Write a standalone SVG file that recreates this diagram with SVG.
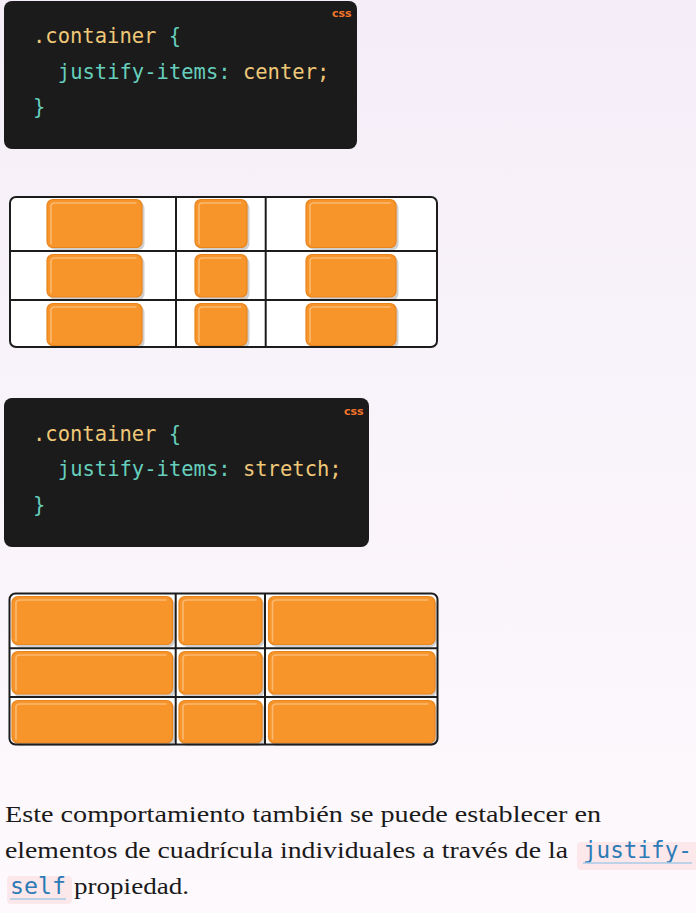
<svg xmlns="http://www.w3.org/2000/svg" width="696" height="913" viewBox="0 0 696 913">
<defs>
<linearGradient id="bg" x1="0" y1="0" x2="0" y2="1">
<stop offset="0" stop-color="#f5eef8"/>
<stop offset="1" stop-color="#fdf9fc"/>
</linearGradient>
<style>
.code{fill:#1b1b1b}
.mono{font-family:"DejaVu Sans Mono","Liberation Mono",monospace;font-size:20.5px}
.yel{fill:#efc878}
.teal{fill:#66cfbd}
.css{font-family:"DejaVu Sans","Liberation Sans",sans-serif;font-size:11px;font-weight:bold;fill:#f2742a}
.cell{fill:#ffffff}
.gl{fill:none;stroke:#1c1c1c;stroke-width:2}
.sh{fill:#cfcfcf}
.box{fill:#f7942a;stroke:#e8851f;stroke-width:1.2}
.hl{fill:none;stroke:#fbbd79;stroke-width:1.6;stroke-linecap:round;opacity:0.9}
.para{font-family:"Liberation Serif","DejaVu Serif",serif;font-size:24px;fill:#1a1a1a}
.ic{fill:#fce8ea}
.icode{font-family:"DejaVu Sans Mono","Liberation Mono",monospace;font-size:22.5px;fill:#2c7ab6}
.ul{stroke:#a9cbe6;stroke-width:1.6}
</style>
</defs>
<rect width="696" height="913" fill="url(#bg)"/>

<g id="code1">
<rect class="code" x="4" y="1" width="353" height="148" rx="8"/>
<text class="css" x="332" y="17">css</text>
<text class="mono" x="33" y="43"><tspan class="yel">.container</tspan><tspan class="teal"> {</tspan></text>
<text class="mono" x="57.8" y="78.5"><tspan class="teal">justify-items:</tspan><tspan class="yel"> center;</tspan></text>
<text class="mono teal" x="33" y="114">}</text>
</g>

<g id="grid1">
<rect class="cell" x="10" y="197" width="427" height="150" rx="6"/>
<g>
<rect class="sh" x="49.5" y="202" width="95" height="48" rx="6"/>
<rect class="sh" x="197.5" y="202" width="52" height="48" rx="6"/>
<rect class="sh" x="308.5" y="202" width="90" height="48" rx="6"/>
<rect class="sh" x="49.5" y="257" width="95" height="43" rx="6"/>
<rect class="sh" x="197.5" y="257" width="52" height="43" rx="6"/>
<rect class="sh" x="308.5" y="257" width="90" height="43" rx="6"/>
<rect class="sh" x="49.5" y="306" width="95" height="42" rx="6"/>
<rect class="sh" x="197.5" y="306" width="52" height="42" rx="6"/>
<rect class="sh" x="308.5" y="306" width="90" height="42" rx="6"/>
</g>
<g id="g1r1c1"><rect class="box" x="47" y="199.5" width="95" height="48" rx="6"/><path class="hl" d="M51 244 V206 Q51 203 55 203 H136"/></g>
<g id="g1r1c2"><rect class="box" x="195" y="199.5" width="52" height="48" rx="6"/><path class="hl" d="M199 244 V206 Q199 203 203 203 H241"/></g>
<g id="g1r1c3"><rect class="box" x="306" y="199.5" width="90" height="48" rx="6"/><path class="hl" d="M310 244 V206 Q310 203 314 203 H390"/></g>
<g id="g1r2c1"><rect class="box" x="47" y="254.5" width="95" height="42.5" rx="6"/><path class="hl" d="M51 293 V261 Q51 258 55 258 H136"/></g>
<g id="g1r2c2"><rect class="box" x="195" y="254.5" width="52" height="42.5" rx="6"/><path class="hl" d="M199 293 V261 Q199 258 203 258 H241"/></g>
<g id="g1r2c3"><rect class="box" x="306" y="254.5" width="90" height="42.5" rx="6"/><path class="hl" d="M310 293 V261 Q310 258 314 258 H390"/></g>
<g id="g1r3c1"><rect class="box" x="47" y="303.5" width="95" height="42" rx="6"/><path class="hl" d="M51 342 V310 Q51 307 55 307 H136"/></g>
<g id="g1r3c2"><rect class="box" x="195" y="303.5" width="52" height="42" rx="6"/><path class="hl" d="M199 342 V310 Q199 307 203 307 H241"/></g>
<g id="g1r3c3"><rect class="box" x="306" y="303.5" width="90" height="42" rx="6"/><path class="hl" d="M310 342 V310 Q310 307 314 307 H390"/></g>
<rect class="gl" x="10" y="197" width="427" height="150" rx="6"/>
<path class="gl" d="M176 197 V347 M265.7 197 V347 M10 251 H437 M10 300 H437"/>
</g>

<g id="code2">
<rect class="code" x="4" y="398" width="365" height="149" rx="8"/>
<text class="css" x="344" y="415">css</text>
<text class="mono" x="33" y="440.5"><tspan class="yel">.container</tspan><tspan class="teal"> {</tspan></text>
<text class="mono" x="57.8" y="476"><tspan class="teal">justify-items:</tspan><tspan class="yel"> stretch;</tspan></text>
<text class="mono teal" x="33" y="511.5">}</text>
</g>

<g id="grid2">
<rect class="cell" x="9.5" y="593.5" width="428" height="151" rx="6"/>
<g>
<rect class="sh" x="14" y="599" width="161" height="48" rx="6"/>
<rect class="sh" x="181.5" y="599" width="83" height="48" rx="6"/>
<rect class="sh" x="270.5" y="599" width="166" height="48" rx="6"/>
<rect class="sh" x="14" y="654" width="161" height="43" rx="6"/>
<rect class="sh" x="181.5" y="654" width="83" height="43" rx="6"/>
<rect class="sh" x="270.5" y="654" width="166" height="43" rx="6"/>
<rect class="sh" x="14" y="703" width="161" height="43" rx="6"/>
<rect class="sh" x="181.5" y="703" width="83" height="43" rx="6"/>
<rect class="sh" x="270.5" y="703" width="166" height="43" rx="6"/>
</g>
<g id="g2r1c1"><rect class="box" x="12" y="596.5" width="160.5" height="48" rx="6"/><path class="hl" d="M16 641 V603 Q16 600 20 600 H166"/></g>
<g id="g2r1c2"><rect class="box" x="179" y="596.5" width="83" height="48" rx="6"/><path class="hl" d="M183 641 V603 Q183 600 187 600 H256"/></g>
<g id="g2r1c3"><rect class="box" x="268.5" y="596.5" width="166.5" height="48" rx="6"/><path class="hl" d="M272.5 641 V603 Q272.5 600 276.5 600 H428"/></g>
<g id="g2r2c1"><rect class="box" x="12" y="651.5" width="160.5" height="42.5" rx="6"/><path class="hl" d="M16 690 V658 Q16 655 20 655 H166"/></g>
<g id="g2r2c2"><rect class="box" x="179" y="651.5" width="83" height="42.5" rx="6"/><path class="hl" d="M183 690 V658 Q183 655 187 655 H256"/></g>
<g id="g2r2c3"><rect class="box" x="268.5" y="651.5" width="166.5" height="42.5" rx="6"/><path class="hl" d="M272.5 690 V658 Q272.5 655 276.5 655 H428"/></g>
<g id="g2r3c1"><rect class="box" x="12" y="700.5" width="160.5" height="42.5" rx="6"/><path class="hl" d="M16 739 V707 Q16 704 20 704 H166"/></g>
<g id="g2r3c2"><rect class="box" x="179" y="700.5" width="83" height="42.5" rx="6"/><path class="hl" d="M183 739 V707 Q183 704 187 704 H256"/></g>
<g id="g2r3c3"><rect class="box" x="268.5" y="700.5" width="166.5" height="42.5" rx="6"/><path class="hl" d="M272.5 739 V707 Q272.5 704 276.5 704 H428"/></g>
<rect class="gl" x="9.5" y="593.5" width="428" height="151" rx="6"/>
<path class="gl" d="M175.7 593.5 V744.5 M265 593.5 V744.5 M9.5 648.3 H437.5 M9.5 697 H437.5"/>
</g>

<g id="paragraph">
<text class="para" x="5" y="822" textLength="596" lengthAdjust="spacingAndGlyphs">Este comportamiento también se puede establecer en</text>
<text class="para" x="5" y="858" textLength="563" lengthAdjust="spacingAndGlyphs">elementos de cuadrícula individuales a través de la</text>
<rect class="ic" x="577" y="842" width="125" height="28" rx="4"/>
<text class="icode" x="583" y="858" textLength="109" lengthAdjust="spacingAndGlyphs">justify-</text>
<line class="ul" x1="583" y1="863" x2="692" y2="863"/>
<rect class="ic" x="7" y="876" width="65" height="28" rx="4"/>
<text class="icode" x="10" y="894" textLength="56" lengthAdjust="spacingAndGlyphs">self</text>
<line class="ul" x1="10" y1="899" x2="66" y2="899"/>
<text class="para" x="74" y="894" textLength="115" lengthAdjust="spacingAndGlyphs">propiedad.</text>
</g>
</svg>
